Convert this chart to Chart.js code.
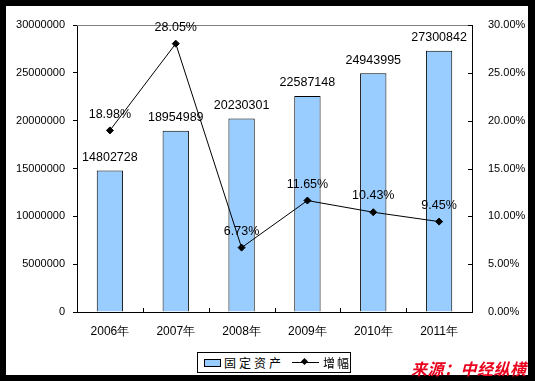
<!DOCTYPE html>
<html>
<head>
<meta charset="utf-8">
<script src="https://cdn.jsdelivr.net/npm/chart.js@4"></script>
<style>
  body { margin: 0; width: 535px; height: 381px; background: #000; position: relative; overflow: hidden; }
  #frame { position: absolute; left: 6px; top: 6px; width: 522px; height: 369px; background: #fff; }
  #legend { position: absolute; left: 197px; top: 352px; width: 152px; height: 19px; border: 1px solid #000; background: #fff;
    font: 12px "Noto Sans CJK SC", sans-serif; color: #000; white-space: nowrap; }
  #legend .sw { position: absolute; left: 6px; top: 6px; width: 15px; height: 6px; background: #99ccff; border: 1px solid #000; }
  #legend .t1 { position: absolute; left: 26px; top: 1px; letter-spacing: 3px; }
  #legend .ln { position: absolute; left: 94px; top: 9px; width: 27px; height: 1px; background: #000; }
  #legend .dm { position: absolute; left: 104px; top: 6px; width: 5px; height: 5px; background: #000; transform: rotate(45deg); }
  #legend .t2 { position: absolute; left: 125px; top: 1px; letter-spacing: 2px; }
  #mark { position: absolute; left: 411px; top: 356px; font: bold italic 16px "Noto Sans CJK SC", sans-serif; color: #e8001c; white-space: nowrap; letter-spacing: 0.5px; }
</style>
</head>
<body>
<div id="frame"><canvas id="myChart" width="522" height="369"></canvas></div>
<div id="legend"><span class="sw"></span><span class="t1">固定资产</span><span class="ln"></span><span class="dm"></span><span class="t2">增幅</span></div>
<div id="mark">来源：中经纵横</div>
<script>
const years = ["2006年", "2007年", "2008年", "2009年", "2010年", "2011年"];
const assets = [14802728, 18954989, 20230301, 22587148, 24943995, 27300842];
const growth = [18.98, 28.05, 6.73, 11.65, 10.43, 9.45];
const leftTicks = [0, 5000000, 10000000, 15000000, 20000000, 25000000, 30000000];
const rightTicks = [0, 5, 10, 15, 20, 25, 30];

const axisFont = { family: "Arial, 'Liberation Sans'", size: 11 };
const catFont = { family: "Arial, 'Liberation Sans'", size: 12 };

// value labels + frame details
const extras = {
  id: "extras",
  afterDatasetsDraw(chart) {
    const c = chart.ctx;
    const area = chart.chartArea;
    c.save();
    // gray top line
    c.strokeStyle = "#808080";
    c.lineWidth = 1;
    c.beginPath();
    c.moveTo(area.left, area.top + 0.5);
    c.lineTo(area.right, area.top + 0.5);
    c.stroke();
    // inward ticks on x axis (category boundaries) and right axis
    c.strokeStyle = "#000";
    c.beginPath();
    const step = (area.right - area.left) / years.length;
    for (let i = 1; i < years.length; i++) {
      const x = Math.round(area.left + step * i) + 0.5;
      c.moveTo(x, area.bottom);
      c.lineTo(x, area.bottom - 4);
    }
    const y1 = chart.scales.y1;
    rightTicks.forEach((t) => {
      const y = Math.round(y1.getPixelForValue(t)) + 0.5;
      c.moveTo(area.right, y);
      c.lineTo(area.right - 4, y);
    });
    c.stroke();

    c.fillStyle = "#000";
    c.font = "12.5px Arial, 'Liberation Sans'";
    c.textAlign = "center";
    c.textBaseline = "bottom";
    chart.getDatasetMeta(1).data.forEach((el, i) => {
      c.fillText(String(assets[i]), el.x, el.y - 7);
    });
    chart.getDatasetMeta(0).data.forEach((el, i) => {
      c.fillText(growth[i].toFixed(2) + "%", el.x, el.y - 10);
    });
    c.restore();
  },
};

new Chart(document.getElementById("myChart"), {
  data: {
    labels: years,
    datasets: [
      {
        type: "line",
        label: "增幅",
        data: growth,
        yAxisID: "y1",
        borderColor: "#000",
        backgroundColor: "#000",
        borderWidth: 1,
        pointStyle: "rectRot",
        pointRadius: 3.5,
        order: 0,
      },
      {
        type: "bar",
        label: "固定资产",
        data: assets,
        yAxisID: "y",
        backgroundColor: "#99ccff",
        borderColor: "#000",
        borderWidth: 1,
        categoryPercentage: 1,
        barPercentage: 0.4,
        order: 1,
      },
    ],
  },
  options: {
    responsive: false,
    animation: false,
    layout: { padding: { top: 19, bottom: 33, left: 0, right: 0 } },
    plugins: { legend: { display: false }, tooltip: { enabled: false } },
    scales: {
      x: {
        offset: true,
        grid: { display: false, drawTicks: false },
        border: { color: "#000" },
        ticks: { color: "#000", font: catFont, padding: 12 },
        afterFit(s) { s.height = 30; },
      },
      y: {
        position: "left",
        min: 0,
        max: 30000000,
        afterBuildTicks(s) { s.ticks = leftTicks.map((v) => ({ value: v })); },
        grid: { drawOnChartArea: false, tickLength: 4, color: "#000" },
        border: { color: "#000" },
        ticks: { color: "#000", font: axisFont, padding: 8, callback: (v) => String(v) },
        afterFit(s) { s.width = 71; },
      },
      y1: {
        position: "right",
        min: 0,
        max: 30,
        afterBuildTicks(s) { s.ticks = rightTicks.map((v) => ({ value: v })); },
        grid: { display: false },
        border: { color: "#000" },
        ticks: { color: "#000", font: axisFont, padding: 8, callback: (v) => v.toFixed(2) + "%" },
        afterFit(s) { s.width = 56; },
      },
    },
  },
  plugins: [extras],
});
</script>
</body>
</html>
